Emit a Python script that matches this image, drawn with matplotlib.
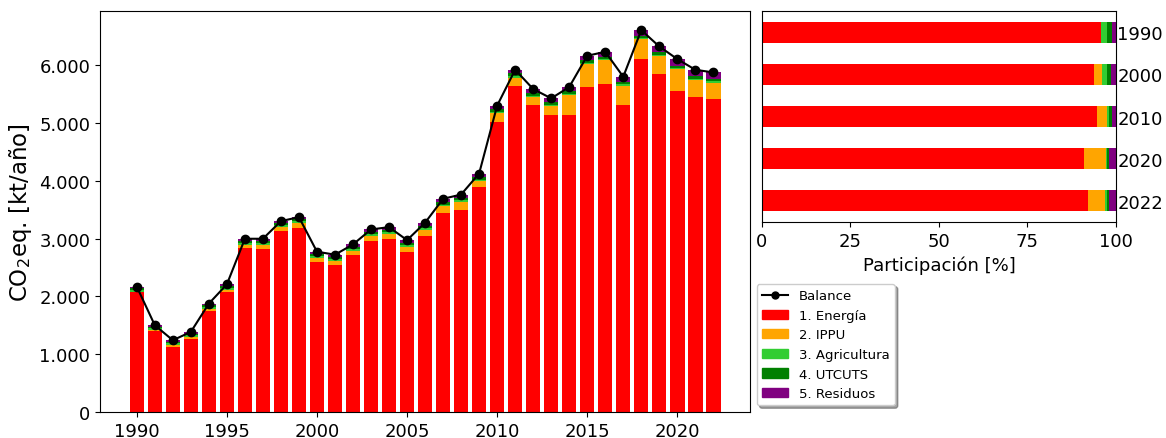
import matplotlib
matplotlib.use("Agg")
import matplotlib.pyplot as plt
import numpy as np
from matplotlib.lines import Line2D
from matplotlib.patches import Patch
from matplotlib.ticker import FuncFormatter

# datos (kt CO2eq.)
years = list(range(1990, 2023))
balance = [2169, 1501, 1242, 1386, 1876, 2209, 2998, 2998, 3303, 3372,
           2774, 2722, 2900, 3159, 3199, 2974, 3275, 3689, 3763, 4126,
           5301, 5922, 5589, 5427, 5623, 6164, 6233, 5801, 6608, 6325,
           6107, 5922, 5876]
energia = [2078, 1403, 1126, 1259, 1748, 2083, 2843, 2826, 3130, 3188,
           2599, 2543, 2710, 2957, 2998, 2767, 3044, 3447, 3492, 3890,
           5015, 5634, 5313, 5133, 5145, 5623, 5669, 5313, 6112, 5853,
           5551, 5451, 5409]
ippu = [0, 9, 26, 35, 33, 28, 53, 67, 66, 74,
        64, 66, 75, 84, 80, 83, 104, 112, 138, 102,
        154, 152, 139, 155, 338, 398, 417, 336, 337, 309,
        379, 295, 292]
agricultura = [37, 35, 34, 34, 35, 36, 37, 38, 38, 39,
               39, 38, 37, 36, 35, 34, 33, 31, 30, 28,
               21, 22, 21, 21, 20, 20, 19, 19, 19, 18,
               18, 18, 18]
utcuts = [30, 29, 29, 30, 31, 32, 33, 34, 34, 34,
          33, 34, 35, 36, 38, 40, 42, 45, 48, 50,
          53, 52, 50, 48, 46, 45, 44, 43, 44, 43,
          43, 42, 40]
residuos = [24, 25, 27, 28, 29, 30, 32, 33, 35, 37,
            39, 41, 43, 46, 48, 50, 52, 54, 55, 56,
            58, 62, 66, 70, 74, 78, 84, 90, 96, 102,
            116, 116, 117]

sector_names = ["1. Energía", "2. IPPU", "3. Agricultura", "4. UTCUTS", "5. Residuos"]
sector_colors = ["red", "orange", "limegreen", "green", "purple"]
share_years = [1990, 2000, 2010, 2020, 2022]

sectors = [energia, ippu, agricultura, utcuts, residuos]

fig = plt.figure(figsize=(11.66, 4.39), dpi=100)
ax1 = fig.add_axes([0.0858, 0.0592, 0.5575, 0.9134])
ax2 = fig.add_axes([0.6535, 0.492, 0.3036, 0.4806])

# ==========================================
# serie temporal apilada
# ==========================================
bottom = np.zeros(len(years))
for vals, col in zip(sectors, sector_colors):
    ax1.bar(years, vals, bottom=bottom, color=col, width=0.8)
    bottom += np.array(vals)
ax1.plot(years, balance, color="black", marker="o", markersize=6, linewidth=1.5)

ax1.set_xticks([1990, 1995, 2000, 2005, 2010, 2015, 2020])
ax1.set_ylim(0, max(balance) * 1.05)
ax1.yaxis.set_major_formatter(FuncFormatter(lambda v, p: f"{int(v):,}".replace(",", ".")))
ax1.tick_params(labelsize=13)
ax1.set_ylabel("CO$_2$eq. [kt/año]", fontsize=16.5)

# ==========================================
# participación por sector
# ==========================================
idx = [years.index(y) for y in share_years]
tot = np.array([sum(s[i] for s in sectors) for i in idx], dtype=float)
ypos = np.arange(len(share_years))
left = np.zeros(len(share_years))
for vals, col in zip(sectors, sector_colors):
    pct = np.array([vals[i] for i in idx]) / tot * 100
    ax2.barh(ypos, pct, left=left, color=col, height=0.5)
    left += pct
ax2.set_xlim(0, 100)
ax2.set_ylim(len(share_years) - 0.5, -0.5)
ax2.set_xticks([0, 25, 50, 75, 100])
ax2.set_yticks(ypos)
ax2.set_yticklabels([str(y) for y in share_years])
ax2.yaxis.tick_right()
ax2.tick_params(labelsize=13)
ax2.tick_params(axis="y", length=0, pad=1)
ax2.set_xlabel("Participación [%]", fontsize=13)

handles = [Line2D([0], [0], color="black", marker="o", markersize=5, linewidth=1.5)]
handles += [Patch(color=c) for c in sector_colors]
fig.legend(handles, ["Balance"] + sector_names, loc="upper left",
           bbox_to_anchor=(0.649, 0.351), borderaxespad=0, fontsize=9.5,
           shadow=True)

fig.savefig("out.png", dpi=100)
